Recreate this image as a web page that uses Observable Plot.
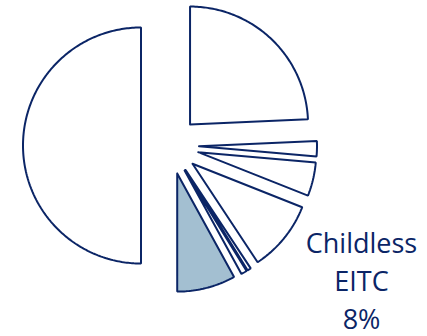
<!DOCTYPE html>
<html><head><meta charset="utf-8">
<script src="https://cdn.jsdelivr.net/npm/d3@7"></script>
<script src="https://cdn.jsdelivr.net/npm/@observablehq/plot@0.6"></script>
<style>html,body{margin:0;padding:0;background:#fff}#chart svg{display:block}</style>
</head><body><div id="chart"></div>
<script>
// Slices, clockwise from 12 o'clock (percent of total)
const categories = ["Slice 1", "Slice 2", "Slice 3", "Slice 4", "Slice 5", "Slice 6", "Childless EITC", "Slice 8"];
const shares = [24.3, 2.1, 4.6, 9.7, 0.5, 0.8, 8.0, 50.0];
const highlighted = ["Childless EITC"];
const labelLines = ["Childless", "EITC", "8%"];

const W = 427, H = 336;
const R = 118;            // pie radius in px
const cx = 169.5, cy = 145; // pie centre in px
const explode = 29 / R;   // explosion distance (in radii)
const navy = "#0b2566";
const fillHi = "#a3bfd1";

const arcs = d3.pie().sort(null).value(d => d)(shares);
const pts = [];
arcs.forEach((a, i) => {
  const s = a.startAngle, e = a.endAngle, m = (s + e) / 2;
  const ox = explode * Math.sin(m), oy = -explode * Math.cos(m);
  const cat = categories[i];
  const hi = highlighted.includes(cat);
  pts.push({cat, hi, x: ox, y: oy});
  const n = Math.max(2, Math.ceil((e - s) / 0.015));
  for (let k = 0; k <= n; k++) {
    const t = s + (e - s) * k / n;
    pts.push({cat, hi, x: ox + Math.sin(t), y: oy - Math.cos(t)});
  }
  pts.push({cat, hi, x: ox, y: oy});
});

const chart = Plot.plot({
  width: W, height: H, margin: 0,
  x: {domain: [-cx / R, (W - cx) / R], range: [0, W], axis: null},
  y: {domain: [-cy / R, (H - cy) / R], range: [0, H], axis: null},
  marks: [
    Plot.line(pts.filter(d => !d.hi), {x: "x", y: "y", z: "cat", fill: "white", stroke: navy, strokeWidth: 2, strokeLinejoin: "miter"}),
    Plot.line(pts.filter(d => d.hi), {x: "x", y: "y", z: "cat", fill: fillHi, stroke: navy, strokeWidth: 2, strokeLinejoin: "miter"}),
    Plot.text([labelLines.join("\n")], {
      frameAnchor: "top-left", dx: 361, dy: 226,
      text: d => d, textAnchor: "middle", lineAnchor: "top", lineHeight: 1.40,
      fontSize: 27, fontFamily: "Open Sans", fill: navy
    })
  ]
});
document.getElementById("chart").appendChild(chart);
</script>
</body></html>
